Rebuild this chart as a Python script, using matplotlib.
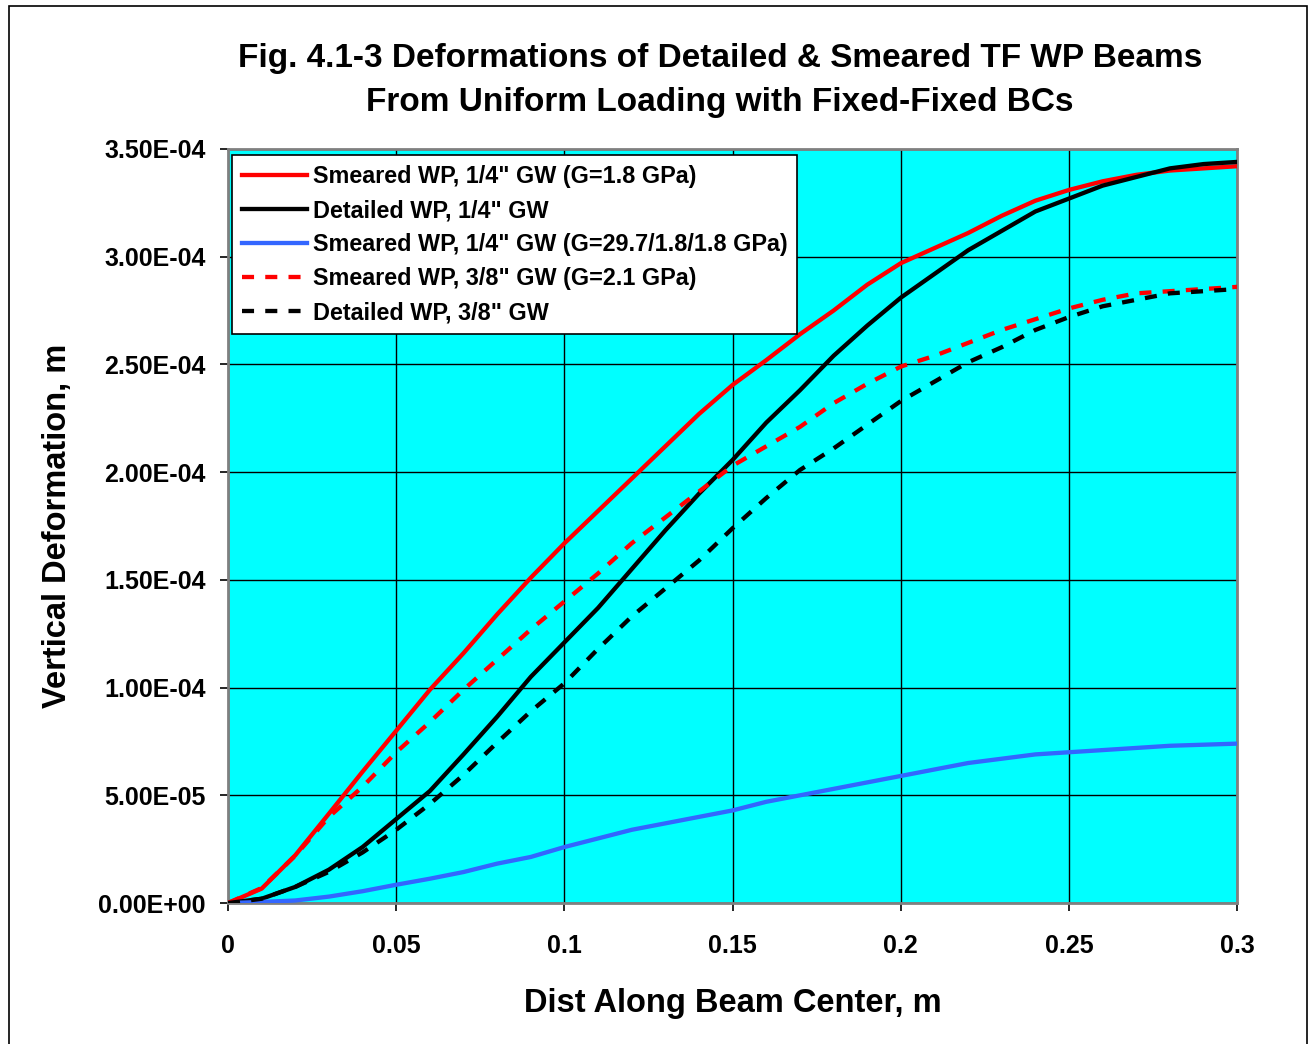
import numpy as np
import matplotlib
matplotlib.use("Agg")
import matplotlib.pyplot as plt
from matplotlib.patches import Rectangle

plt.rcParams['font.family'] = ['Liberation Sans', 'DejaVu Sans']
plt.rcParams['font.weight'] = 'bold'

dist = [0.00, 0.01, 0.02, 0.03, 0.04, 0.05, 0.06, 0.07, 0.08, 0.09, 0.10,
        0.11, 0.12, 0.13, 0.14, 0.15, 0.16, 0.17, 0.18, 0.19, 0.20,
        0.21, 0.22, 0.23, 0.24, 0.25, 0.26, 0.27, 0.28, 0.29, 0.30]

# deformation values in 1e-4 m
smeared_14 = [0.0, 0.067, 0.222, 0.415, 0.61, 0.80, 0.99, 1.16, 1.34, 1.51, 1.67,
              1.82, 1.97, 2.12, 2.27, 2.405, 2.52, 2.64, 2.75, 2.87, 2.97,
              3.04, 3.11, 3.19, 3.26, 3.31, 3.35, 3.38, 3.40, 3.41, 3.42]
detailed_14 = [0.0, 0.02, 0.075, 0.155, 0.26, 0.39, 0.52, 0.69, 0.865, 1.05, 1.21,
               1.37, 1.55, 1.73, 1.90, 2.057, 2.23, 2.38, 2.54, 2.68, 2.81,
               2.92, 3.03, 3.12, 3.21, 3.27, 3.33, 3.37, 3.41, 3.43, 3.44]
smeared_14_g297 = [0.0, 0.005, 0.012, 0.03, 0.055, 0.085, 0.113, 0.144, 0.183, 0.214, 0.26,
                   0.30, 0.34, 0.37, 0.40, 0.43, 0.47, 0.50, 0.53, 0.56, 0.59,
                   0.62, 0.65, 0.67, 0.69, 0.70, 0.71, 0.72, 0.73, 0.735, 0.74]
smeared_38 = [0.0, 0.07, 0.22, 0.40, 0.54, 0.70, 0.84, 0.99, 1.13, 1.27, 1.40,
              1.53, 1.67, 1.79, 1.91, 2.03, 2.12, 2.21, 2.32, 2.41, 2.49,
              2.54, 2.60, 2.66, 2.71, 2.76, 2.80, 2.83, 2.84, 2.85, 2.86]
detailed_38 = [0.0, 0.02, 0.075, 0.145, 0.235, 0.34, 0.46, 0.595, 0.745, 0.89, 1.02,
               1.18, 1.33, 1.46, 1.59, 1.74, 1.88, 2.01, 2.11, 2.22, 2.33,
               2.42, 2.51, 2.58, 2.66, 2.72, 2.77, 2.80, 2.83, 2.84, 2.85]

labels = ['Smeared WP, 1/4" GW (G=1.8 GPa)',
          'Detailed WP, 1/4" GW',
          'Smeared WP, 1/4" GW (G=29.7/1.8/1.8 GPa)',
          'Smeared WP, 3/8" GW (G=2.1 GPa)',
          'Detailed WP, 3/8" GW']

x = np.array(dist)
fig = plt.figure(figsize=(13.09, 10.44), dpi=100)
fig.patches.append(Rectangle((9 / 1309, -0.01), 1298 / 1309, 1 - 6 / 1044 + 0.01,
                             transform=fig.transFigure, fill=False,
                             edgecolor='black', linewidth=1.2))
ax = fig.add_axes([0.1742, 0.135, 0.771, 0.7223])
ax.set_facecolor('#00FFFF')

dash = (2.8, 2.6)
ax.plot(x, np.array(smeared_14) * 1e-4, color='#FF0000', lw=3.1, label=labels[0], zorder=3)
ax.plot(x, np.array(detailed_14) * 1e-4, color='black', lw=3.1, label=labels[1], zorder=3)
ax.plot(x, np.array(smeared_14_g297) * 1e-4, color='#3366FF', lw=3.1, label=labels[2], zorder=3)
ax.plot(x, np.array(smeared_38) * 1e-4, color='#FF0000', lw=3.1, dashes=dash, label=labels[3], zorder=3)
ax.plot(x, np.array(detailed_38) * 1e-4, color='black', lw=3.1, dashes=dash, label=labels[4], zorder=3)

ax.set_xlim(0, 0.3)
ax.set_ylim(0, 3.5e-4)
ax.set_xticks([0, 0.05, 0.1, 0.15, 0.2, 0.25, 0.3])
ax.set_xticklabels(['0', '0.05', '0.1', '0.15', '0.2', '0.25', '0.3'])
yt = np.arange(0, 3.51e-4, 0.5e-4)
ax.set_yticks(yt)
ax.set_yticklabels(['%.2E' % v for v in yt])
ax.grid(True, color='black', linewidth=1.0)
ax.set_axisbelow(True)
for s in ax.spines.values():
    s.set_color('#808080')
    s.set_linewidth(2)
ax.tick_params(axis='both', direction='out', length=6, width=1.2, color='black',
               labelsize=18)
ax.tick_params(axis='x', pad=16)
ax.tick_params(axis='y', pad=10)

ax.set_xlabel('Dist Along Beam Center, m', fontsize=23.5, fontweight='bold', labelpad=22)
ax.set_ylabel('Vertical Deformation, m', fontsize=23.5, fontweight='bold', labelpad=18)
fig.text(0.550, 0.944, 'Fig. 4.1-3 Deformations of Detailed & Smeared TF WP Beams',
         ha='center', va='center', fontsize=24, fontweight='bold')
fig.text(0.550, 0.902, 'From Uniform Loading with Fixed-Fixed BCs',
         ha='center', va='center', fontsize=24, fontweight='bold')

leg = ax.legend(loc='upper left', bbox_to_anchor=(0.004, 0.992), fontsize=16.8,
                frameon=True, fancybox=False, handlelength=2.8, handletextpad=0.25,
                borderpad=0.42, labelspacing=0.48, borderaxespad=0)
leg.get_frame().set_edgecolor('black')
leg.get_frame().set_linewidth(1.2)
leg.get_frame().set_facecolor('white')
leg.get_frame().set_alpha(1)

fig.savefig('out.png', dpi=100)
